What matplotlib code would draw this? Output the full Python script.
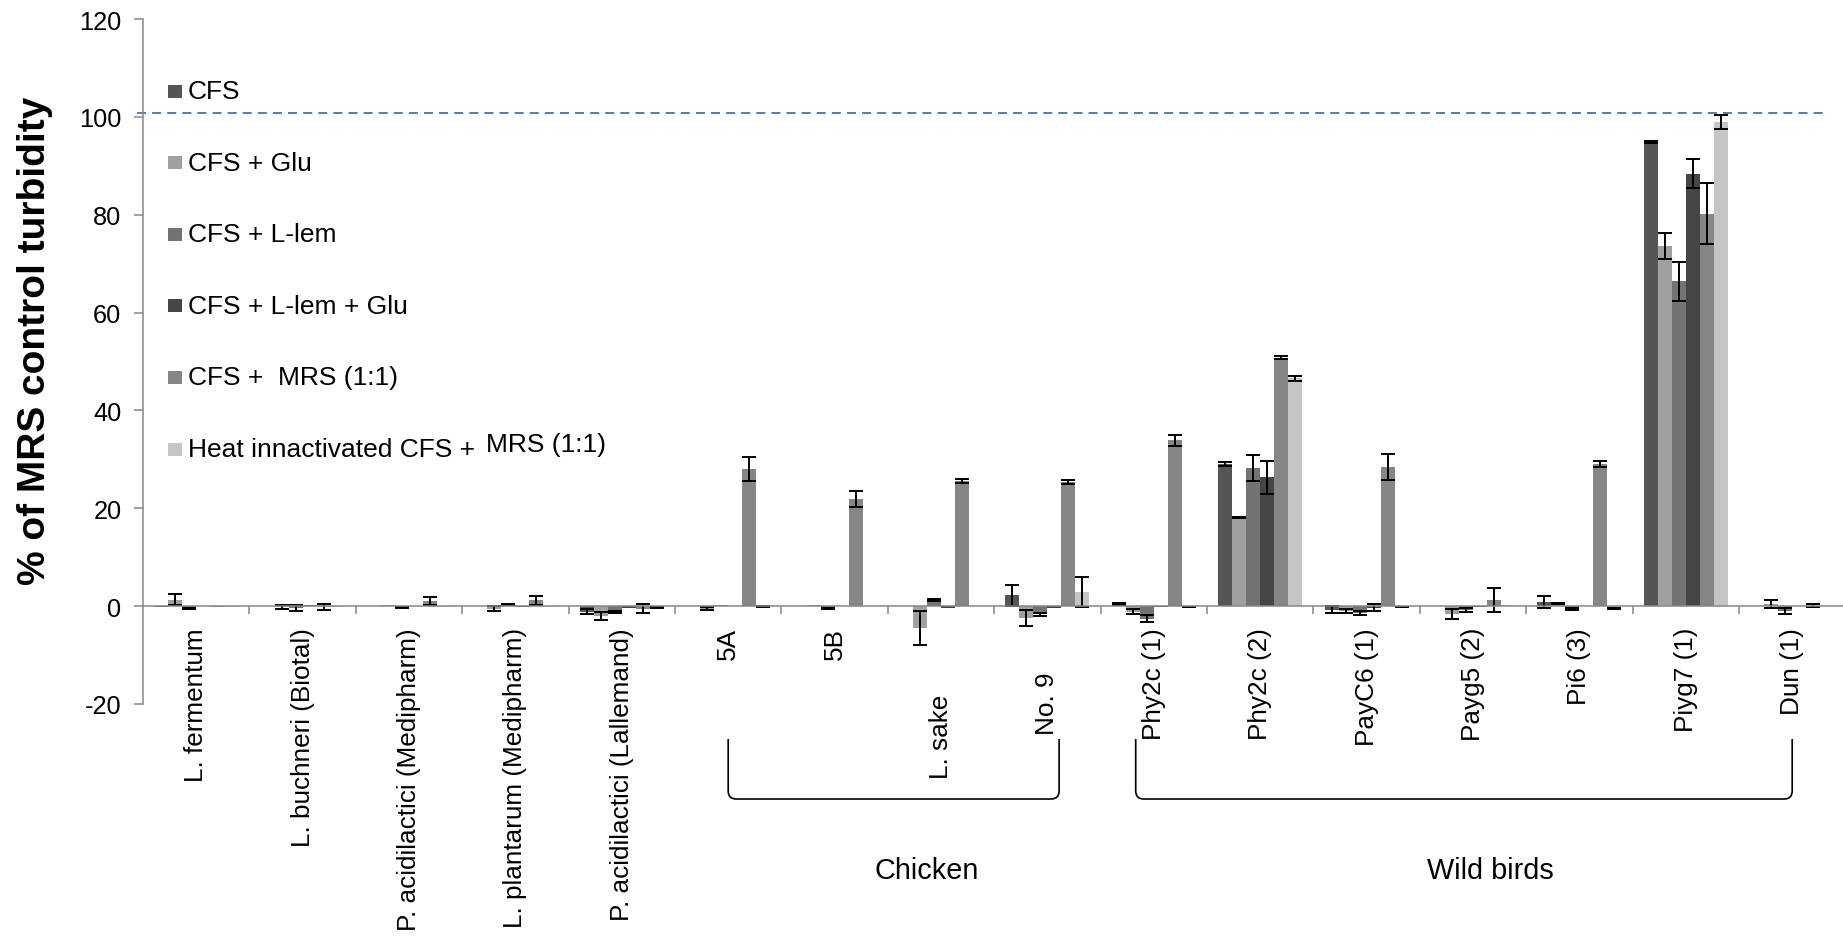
import numpy as np
import matplotlib
matplotlib.use("Agg")
import matplotlib.pyplot as plt
import matplotlib.transforms as mtransforms
from matplotlib.patches import Rectangle, PathPatch
from matplotlib.path import Path

plt.rcParams['font.family'] = ['Liberation Sans', 'DejaVu Sans']
plt.rcParams['axes.unicode_minus'] = False

# ---------------------------------------------------------------- data
categories = ["L. fermentum", "L. buchneri (Biotal)", "P. acidilactici (Medipharm)",
              "L. plantarum (Medipharm)", "P. acidilactici (Lallemand)",
              "5A", "5B", "L. sake", "No. 9",
              "Phy2c (1)", "Phy2c (2)", "PayC6 (1)", "Payg5 (2)", "Pi6 (3)",
              "Piyg7 (1)", "Dun (1)"]

series_names = ["CFS", "CFS + Glu", "CFS + L-lem", "CFS + L-lem + Glu",
                "CFS +  MRS (1:1)", "Heat innactivated CFS +"]
heat_suffix = "MRS (1:1)"

nan = np.nan
cfs = [-0.1, 0.1, 0.1, 0.0, -1.1, 0.1, 0.1, 0.0, 2.2, 0.4, 29.0, -0.7, 0.1, 0.85, 94.8, 0.0]
cfs_err = [nan, nan, nan, nan, 0.6, nan, nan, nan, 2.2, 0.2, 0.4, 0.8, nan, 1.2, 0.2, nan]

cfs_glu = [1.3, -0.1, 0.3, -0.5, -2.0, -0.5, 0.2, -4.4, -2.4, -1.1, 18.1, -1.0, -1.6, 0.5, 73.6, 0.5]
cfs_glu_err = [1.1, 0.4, nan, 0.5, 0.85, 0.3, nan, 3.5, 1.7, 0.6, 0.05, 0.5, 1.0, 0.1, 2.6, 0.8]

cfs_llem = [-0.4, -0.4, -0.3, 0.3, -1.2, 0.2, -0.4, 1.2, -1.7, -2.6, 28.2, -1.4, -0.8, -0.5, 66.4, -0.95]
cfs_llem_err = [0.1, 0.6, 0.1, 0.05, 0.3, nan, 0.1, 0.2, 0.3, 0.7, 2.6, 0.45, 0.35, 0.2, 4.0, 0.6]

cfs_llem_glu = [0.1, 0.2, 0.0, -0.1, -0.3, 0.0, 0.1, -0.3, -0.3, -0.1, 26.3, -0.3, -0.2, 0.0, 88.4, 0.0]
cfs_llem_glu_err = [nan, nan, nan, nan, nan, nan, nan, nan, nan, nan, 3.4, 0.65, nan, nan, 3.0, nan]

cfs_mrs = [-0.2, -0.2, 1.0, 1.2, -0.5, 28.0, 21.9, 25.5, 25.4, 33.9, 50.8, 28.4, 1.25, 29.0, 80.2, 0.1]
cfs_mrs_err = [nan, 0.6, 0.8, 0.9, 1.0, 2.5, 1.7, 0.4, 0.4, 1.1, 0.3, 2.6, 2.45, 0.6, 6.2, 0.3]

heat_mrs = [-0.2, -0.1, -0.1, -0.1, -0.3, -0.1, 0.1, 0.0, 2.9, -0.2, 46.6, -0.2, 0.2, -0.5, 98.9, 0.1]
heat_mrs_err = [nan, nan, nan, nan, 0.05, 0.05, nan, nan, 3.1, 0.05, 0.5, 0.05, nan, 0.1, 1.4, nan]

series_values = [cfs, cfs_glu, cfs_llem, cfs_llem_glu, cfs_mrs, heat_mrs]
series_errors = [cfs_err, cfs_glu_err, cfs_llem_err, cfs_llem_glu_err, cfs_mrs_err, heat_mrs_err]

group_names = ["Chicken", "Wild birds"]
control_level = 100.7

# ---------------------------------------------------------------- style
series_colors = ["#555555", "#a0a0a0", "#737373", "#454545", "#868686", "#c5c5c5"]
axis_gray = "#868686"
W, H = 1843, 945


def fx(px):
    return px / W


def fy(py):
    return 1 - py / H


fig = plt.figure(figsize=(W / 100, H / 100), dpi=100)
group_px = 106.4
ax = fig.add_axes([fx(143), fy(705), fx(1700), 685 / H])
ax.set_xlim(-0.5, -0.5 + 1700 / group_px)
ax.set_ylim(-20, 120)

x = np.arange(len(categories))
bar_w = 0.1316
for k in range(len(series_values)):
    offs = x + (k - 2.5) * bar_w
    vals = np.array(series_values[k], dtype=float)
    errs = np.array(series_errors[k], dtype=float)
    ax.bar(offs, vals, bar_w, color=series_colors[k], linewidth=0, zorder=2)
    ax.errorbar(offs, vals, yerr=errs, fmt='none', ecolor='black',
                elinewidth=1.4, capsize=4.7, capthick=1.4, zorder=3)

# axes: Excel-like, horizontal axis crossing at zero
for s in ['top', 'right']:
    ax.spines[s].set_visible(False)
ax.spines['bottom'].set_position(('data', 0))
for s in ['bottom', 'left']:
    ax.spines[s].set_color(axis_gray)
    ax.spines[s].set_linewidth(1.1)
    ax.spines[s].set_zorder(4)

ax.set_xticks(np.arange(0.5, len(categories) - 0.5, 1.0))
ax.tick_params(axis='x', direction='out', length=6, width=1.1, color=axis_gray,
               labelbottom=False)
ax.set_yticks(np.arange(-20, 121, 20))
ax.tick_params(axis='y', direction='out', length=6.5, width=1.1, color=axis_gray,
               labelsize=18.3, pad=9)

# category labels hanging below the axis
label_top_px = {"L. sake": 695, "No. 9": 673}
xfig = mtransforms.blended_transform_factory(ax.transData, fig.transFigure)
for i, name in enumerate(categories):
    ax.text(i, fy(label_top_px.get(name, 628)), name, transform=xfig,
            rotation=90, ha='center', va='top', fontsize=18.8, clip_on=False)

# reference line at the control level
ax.plot([-0.556, 15.31], [control_level, control_level], color="#4f81bd",
        linewidth=1.45, dashes=(4.5, 3.0), clip_on=False, zorder=1)

# y-axis title
fig.text(fx(35), fy(341), "% of MRS control turbidity", rotation=90,
         ha='center', va='center', fontsize=28, fontweight='bold')

# legend
for k, name in enumerate(series_names):
    yc = 92 + 71.6 * k
    fig.add_artist(Rectangle((fx(168), fy(yc + 6.5)), 14 / W, 13 / H,
                             transform=fig.transFigure, color=series_colors[k],
                             linewidth=0))
    t = fig.text(fx(187.5), fy(yc), name, ha='left', va='center', fontsize=19)
fig.canvas.draw()
bb = t.get_window_extent()
fig.text((bb.x1 + 11) / W, fy(92 + 71.6 * 5 - 5), heat_suffix,
         ha='left', va='center', fontsize=19)


# group brackets
def bracket(x0, x1, top_px=740, bot_px=800, r_px=8):
    to_fig = ax.transData + fig.transFigure.inverted()
    fx0 = to_fig.transform((x0, 0))[0]
    fx1 = to_fig.transform((x1, 0))[0]
    yt, yb = fy(top_px), fy(bot_px)
    rx, ry = r_px / W, r_px / H
    verts = [(fx0, yt), (fx0, yb + ry), (fx0, yb), (fx0 + rx, yb),
             (fx1 - rx, yb), (fx1, yb), (fx1, yb + ry), (fx1, yt)]
    codes = [Path.MOVETO, Path.LINETO, Path.CURVE3, Path.CURVE3,
             Path.LINETO, Path.CURVE3, Path.CURVE3, Path.LINETO]
    fig.add_artist(PathPatch(Path(verts, codes), transform=fig.transFigure,
                             fill=False, edgecolor='black', linewidth=1.2))


group_spans = [(5.0, 8.11), (8.83, 15.0)]
group_label_x = [6.87, 12.16]
for name, (a, b), lx in zip(group_names, group_spans, group_label_x):
    bracket(a, b)
    ax.text(lx, fy(871), name, transform=xfig, ha='center', va='center',
            fontsize=20.8, clip_on=False)

fig.savefig("out.png", dpi=100)
